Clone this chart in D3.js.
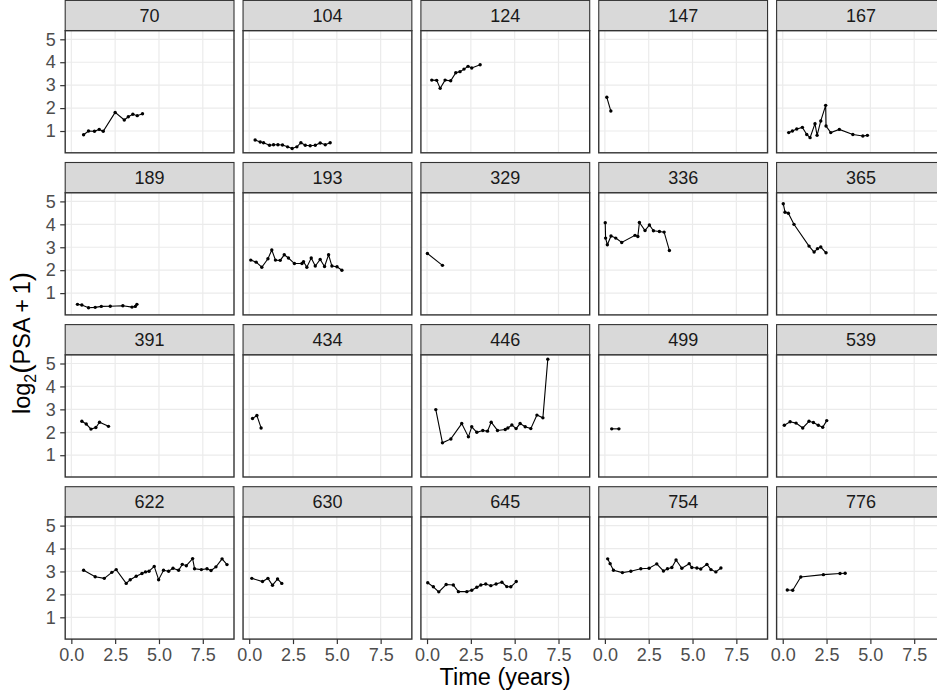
<!DOCTYPE html>
<html>
<head>
<meta charset="utf-8">
<script src="https://cdn.jsdelivr.net/npm/d3@7.9.0/dist/d3.min.js"></script>
<style>
  body { margin: 0; background: #fff; }
  svg { display: block; font-family: "Liberation Sans", Arial, Helvetica, sans-serif; }
</style>
</head>
<body>
<div id="chart"></div>
<script>
// patient ids, in facet order
const ids = ["70", "104", "124", "147", "167", "189", "193", "329", "336", "365",
             "391", "434", "446", "499", "539", "622", "630", "645", "754", "776"];

// time (years) and log2(PSA + 1)
const t70 = [0.70, 0.98, 1.32, 1.59, 1.82, 2.50, 3.02, 3.25, 3.51, 3.76, 4.06];
const y70 = [0.84, 1.00, 0.99, 1.07, 0.99, 1.81, 1.48, 1.62, 1.73, 1.67, 1.75];
const t104 = [0.34, 0.63, 0.82, 1.16, 1.39, 1.64, 1.90, 2.19, 2.45, 2.72, 2.95, 3.20, 3.48, 3.77, 4.05, 4.34, 4.62];
const y104 = [0.61, 0.52, 0.49, 0.38, 0.40, 0.40, 0.39, 0.31, 0.24, 0.31, 0.49, 0.38, 0.36, 0.38, 0.48, 0.40, 0.49];
const t124 = [0.27, 0.55, 0.75, 1.03, 1.35, 1.64, 1.88, 2.11, 2.34, 2.55, 3.03];
const y124 = [3.22, 3.21, 2.86, 3.22, 3.19, 3.54, 3.59, 3.70, 3.82, 3.75, 3.89];
const t147 = [0.11, 0.34];
const y147 = [2.47, 1.87];
const t167 = [0.34, 0.55, 0.80, 1.12, 1.37, 1.56, 1.84, 1.96, 2.17, 2.45, 2.47, 2.74, 3.23, 4.00, 4.57, 4.83];
const y167 = [0.93, 1.00, 1.09, 1.16, 0.85, 0.71, 1.32, 0.81, 1.44, 2.12, 1.22, 0.93, 1.07, 0.85, 0.78, 0.81];
const t189 = [0.35, 0.60, 0.98, 1.36, 1.71, 2.22, 2.94, 3.46, 3.65, 3.74];
const y189 = [0.51, 0.48, 0.36, 0.38, 0.42, 0.43, 0.45, 0.39, 0.42, 0.51];
const t193 = [0.09, 0.40, 0.72, 1.07, 1.29, 1.50, 1.77, 2.00, 2.24, 2.58, 3.01, 3.10, 3.29, 3.54, 3.77, 4.05, 4.30, 4.53, 4.72, 5.01, 5.29];
const y193 = [2.44, 2.35, 2.13, 2.50, 2.88, 2.44, 2.43, 2.67, 2.53, 2.29, 2.29, 2.37, 2.13, 2.53, 2.18, 2.47, 2.16, 2.67, 2.18, 2.15, 2.00];
const t329 = [0.02, 0.88];
const y329 = [2.73, 2.21];
const t336 = [0.02, 0.04, 0.14, 0.35, 0.62, 0.96, 1.72, 1.88, 1.97, 2.29, 2.54, 2.77, 3.11, 3.38, 3.68];
const y336 = [4.07, 3.40, 3.11, 3.49, 3.40, 3.21, 3.52, 3.47, 4.08, 3.73, 3.97, 3.72, 3.69, 3.66, 2.86];
const t365 = [0.03, 0.13, 0.32, 0.64, 1.50, 1.79, 1.98, 2.17, 2.47];
const y365 = [4.90, 4.53, 4.48, 4.00, 3.05, 2.79, 2.94, 3.01, 2.76];
const t391 = [0.60, 0.85, 1.12, 1.40, 1.61, 2.12];
const y391 = [2.48, 2.36, 2.14, 2.21, 2.44, 2.26];
const t434 = [0.19, 0.44, 0.68];
const y434 = [2.60, 2.73, 2.19];
const t446 = [0.50, 0.88, 1.36, 1.98, 2.36, 2.55, 2.84, 3.18, 3.45, 3.66, 4.02, 4.46, 4.61, 4.84, 5.08, 5.31, 5.60, 5.92, 6.27, 6.61, 6.89];
const y446 = [2.99, 1.54, 1.71, 2.38, 1.80, 2.24, 2.00, 2.08, 2.05, 2.44, 2.08, 2.12, 2.19, 2.32, 2.16, 2.38, 2.24, 2.16, 2.75, 2.63, 5.19];
const t499 = [0.39, 0.80];
const y499 = [2.15, 2.15];
const t539 = [0.09, 0.42, 0.76, 1.14, 1.50, 1.75, 2.03, 2.28, 2.51];
const y539 = [2.31, 2.46, 2.40, 2.19, 2.48, 2.43, 2.31, 2.22, 2.51];
const t622 = [0.70, 1.36, 1.88, 2.31, 2.56, 3.13, 3.36, 3.70, 4.03, 4.23, 4.43, 4.73, 4.98, 5.26, 5.55, 5.80, 6.12, 6.33, 6.56, 6.92, 7.03, 7.42, 7.74, 7.97, 8.25, 8.60, 8.88];
const y622 = [3.05, 2.77, 2.70, 2.96, 3.08, 2.48, 2.64, 2.79, 2.91, 2.98, 3.01, 3.22, 2.64, 3.05, 3.01, 3.14, 3.05, 3.31, 3.25, 3.56, 3.12, 3.08, 3.12, 3.04, 3.20, 3.55, 3.30];
const t630 = [0.15, 0.76, 1.07, 1.33, 1.62, 1.86];
const y630 = [2.70, 2.56, 2.70, 2.40, 2.67, 2.48];
const t645 = [0.04, 0.36, 0.67, 1.09, 1.50, 1.79, 2.27, 2.55, 2.84, 3.07, 3.35, 3.64, 3.94, 4.27, 4.55, 4.78, 5.09];
const y645 = [2.51, 2.33, 2.11, 2.43, 2.41, 2.12, 2.12, 2.18, 2.31, 2.41, 2.45, 2.38, 2.45, 2.53, 2.34, 2.33, 2.56];
const t754 = [0.16, 0.30, 0.49, 1.00, 1.48, 2.05, 2.52, 2.96, 3.34, 3.57, 3.82, 4.06, 4.39, 4.81, 4.96, 5.25, 5.47, 5.82, 6.05, 6.33, 6.62];
const y754 = [3.55, 3.34, 3.05, 2.95, 3.01, 3.12, 3.14, 3.33, 3.02, 3.12, 3.17, 3.50, 3.14, 3.34, 3.17, 3.15, 3.11, 3.31, 3.08, 2.98, 3.15];
const t776 = [0.26, 0.57, 1.03, 2.32, 3.27, 3.56];
const y776 = [2.19, 2.18, 2.76, 2.86, 2.91, 2.92];

const xTicks = [0, 2.5, 5, 7.5];
const yTicks = [1, 2, 3, 4, 5];

const times = [t70, t104, t124, t147, t167, t189, t193, t329, t336, t365,
               t391, t434, t446, t499, t539, t622, t630, t645, t754, t776];
const values = [y70, y104, y124, y147, y167, y189, y193, y329, y336, y365,
                y391, y434, y446, y499, y539, y622, y630, y645, y754, y776];

const width = 937;
const height = 698;
const ncol = 5;
const left = 65.2;
const colStep = 177.85;
const panelW = 168.8;
const top0 = 0.4;
const rowStep = 162.1;
const stripH = 30.3;
const panelH = 122.1;

const svg = d3.select("#chart")
  .append("svg")
  .attr("width", width)
  .attr("height", height);

const x = d3.scaleLinear().domain([-0.35, 9.28]).range([0, panelW]);
const y = d3.scaleLinear().domain([0.05, 5.375]).range([panelH, 0]);

const line = d3.line()
  .x((d) => x(d[0]))
  .y((d) => y(d[1]));

ids.forEach((id, i) => {
  const col = i % ncol;
  const row = Math.floor(i / ncol);
  const nrow = Math.ceil(ids.length / ncol);
  const pts = d3.zip(times[i], values[i]);

  const g = svg.append("g")
    .attr("transform", `translate(${left + col * colStep}, ${top0 + row * rowStep})`);

  // strip
  g.append("rect")
    .attr("width", panelW)
    .attr("height", stripH)
    .attr("fill", "#D9D9D9")
    .attr("stroke", "#333333")
    .attr("stroke-width", 1.1);

  g.append("text")
    .attr("x", panelW / 2)
    .attr("y", stripH / 2)
    .attr("dy", "0.36em")
    .attr("text-anchor", "middle")
    .attr("fill", "#1A1A1A")
    .style("font-size", "18px")
    .text(id);

  const p = g.append("g").attr("transform", `translate(0, ${stripH})`);

  p.append("rect")
    .attr("width", panelW)
    .attr("height", panelH)
    .attr("fill", "#fff");

  p.append("g")
    .selectAll("line")
    .data(xTicks)
    .join("line")
    .attr("x1", (d) => x(d))
    .attr("x2", (d) => x(d))
    .attr("y1", 0)
    .attr("y2", panelH)
    .attr("stroke", "#EBEBEB")
    .attr("stroke-width", 1.2);

  p.append("g")
    .selectAll("line")
    .data(yTicks)
    .join("line")
    .attr("x1", 0)
    .attr("x2", panelW)
    .attr("y1", (d) => y(d))
    .attr("y2", (d) => y(d))
    .attr("stroke", "#EBEBEB")
    .attr("stroke-width", 1.2);

  p.append("path")
    .datum(pts)
    .attr("d", line)
    .attr("fill", "none")
    .attr("stroke", "#000")
    .attr("stroke-width", 1.1);

  p.append("g")
    .selectAll("circle")
    .data(pts)
    .join("circle")
    .attr("cx", (d) => x(d[0]))
    .attr("cy", (d) => y(d[1]))
    .attr("r", 1.7)
    .attr("fill", "#000");

  p.append("rect")
    .attr("width", panelW)
    .attr("height", panelH)
    .attr("fill", "none")
    .attr("stroke", "#333333")
    .attr("stroke-width", 1.4);

  if (row === nrow - 1) {
    const ax = p.append("g")
      .attr("transform", `translate(0, ${panelH})`)
      .call(d3.axisBottom(x).tickValues(xTicks).tickFormat(d3.format(".1f")).tickSize(5).tickPadding(4.3));
    styleAxis(ax);
  }

  if (col === 0) {
    const ay = p.append("g")
      .call(d3.axisLeft(y).tickValues(yTicks).tickFormat(d3.format("d")).tickSize(5).tickPadding(4.5));
    styleAxis(ay);
  }
});

function styleAxis(ax) {
  ax.select(".domain").remove();
  ax.selectAll(".tick line").attr("stroke", "#333333").attr("stroke-width", 1.2);
  ax.selectAll(".tick text")
    .attr("fill", "#4D4D4D")
    .style("font-size", "18px")
    .style("font-family", "'Liberation Sans', Arial, sans-serif");
}

// axis titles
svg.append("text")
  .attr("x", 505)
  .attr("y", 685)
  .attr("text-anchor", "middle")
  .attr("fill", "#000")
  .style("font-size", "23.5px")
  .text("Time (years)");

const yt = svg.append("text")
  .attr("transform", "translate(30, 343) rotate(-90)")
  .attr("text-anchor", "middle")
  .attr("fill", "#000")
  .style("font-size", "23.5px");
yt.append("tspan").text("log");
yt.append("tspan").attr("dy", 6).style("font-size", "16px").text("2");
yt.append("tspan").attr("dy", -6).style("font-size", "28px").text("(");
yt.append("tspan").text("PSA\u2009+\u20091");
yt.append("tspan").style("font-size", "28px").text(")");
</script>
</body>
</html>
